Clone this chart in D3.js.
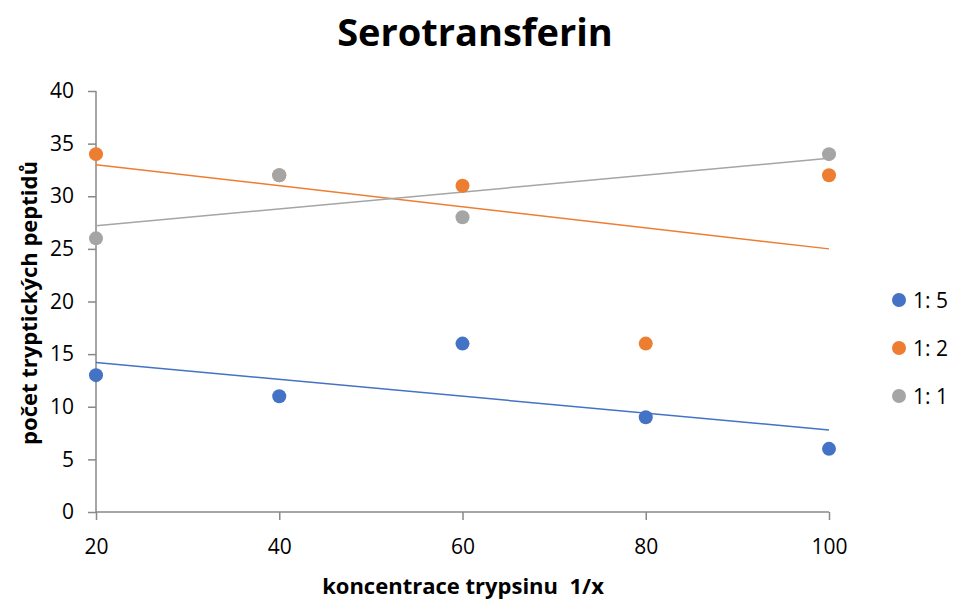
<!DOCTYPE html>
<html>
<head>
<meta charset="utf-8">
<script src="https://cdn.jsdelivr.net/npm/d3@7"></script>
<style>
  body { margin: 0; background: #fff; }
  svg { display: block; }
  text { font-family: "Open Sans", "Noto Sans", sans-serif; fill: #000; }
</style>
</head>
<body>
<svg id="chart" width="960" height="603"></svg>
<script>
// Number of tryptic peptides vs. trypsin concentration (1/x)
const seriesNames = ["1: 5", "1: 2", "1: 1"];
const seriesColors = ["#4472C4", "#ED7D31", "#A5A5A5"];
const xs15 = [20, 40, 60, 80, 100];
const ys15 = [13, 11, 16, 9, 6];
const xs12 = [20, 40, 60, 80, 100];
const ys12 = [34, 32, 31, 16, 32];
const xs11 = [20, 40, 60, 100];
const ys11 = [26, 32, 28, 34];
const xTicks = [20, 40, 60, 80, 100];
const yTicks = [0, 5, 10, 15, 20, 25, 30, 35, 40];

const series = [
  { name: seriesNames[0], color: seriesColors[0], xs: xs15, ys: ys15 },
  { name: seriesNames[1], color: seriesColors[1], xs: xs12, ys: ys12 },
  { name: seriesNames[2], color: seriesColors[2], xs: xs11, ys: ys11 }
];

// least-squares linear trend
function linFit(xs, ys) {
  const n = xs.length;
  const mx = d3.mean(xs), my = d3.mean(ys);
  let num = 0, den = 0;
  for (let i = 0; i < n; i++) {
    num += (xs[i] - mx) * (ys[i] - my);
    den += (xs[i] - mx) ** 2;
  }
  const b = num / den;
  return x => my + b * (x - mx);
}

const svg = d3.select("#chart");
const x = d3.scaleLinear().domain([20, 100]).range([96, 829]);
const y = d3.scaleLinear().domain([0, 40]).range([512, 91]);
const axisColor = "#898989";

// title
svg.append("text")
  .attr("x", 475).attr("y", 46)
  .attr("text-anchor", "middle")
  .style("font-size", "38px").style("font-weight", "bold")
  .text("Serotransferin");

// y axis
const yAxis = svg.append("g")
  .attr("transform", `translate(${x(20)},0)`)
  .call(d3.axisLeft(y).tickValues(yTicks).tickSize(8).tickPadding(14));
// x axis
const xAxis = svg.append("g")
  .attr("transform", `translate(0,${y(0)})`)
  .call(d3.axisBottom(x).tickValues(xTicks).tickSize(8).tickPadding(19));

[yAxis, xAxis].forEach(g => {
  g.select(".domain").attr("stroke", axisColor).attr("stroke-width", 1.5);
  g.selectAll(".tick line").attr("stroke", axisColor).attr("stroke-width", 1.5);
  g.selectAll(".tick text")
    .style("font-size", "21px")
    .style("font-family", "'Open Sans', 'Noto Sans', sans-serif")
    .attr("fill", "#000");
});
yAxis.select(".domain").attr("d", `M0,${y(40)}V${y(0)}`);
xAxis.select(".domain").attr("d", `M${x(20)},0H${x(100)}`);

// axis titles
svg.append("text")
  .attr("x", 463).attr("y", 594)
  .attr("text-anchor", "middle")
  .style("font-size", "22px").style("font-weight", "bold")
  .style("white-space", "pre")
  .text("koncentrace trypsinu  1/x");

svg.append("text")
  .attr("transform", `translate(37,303) rotate(-90)`)
  .attr("text-anchor", "middle")
  .style("font-size", "22px").style("font-weight", "bold")
  .text("počet tryptických peptidů");

// trendlines
series.forEach(s => {
  const f = linFit(s.xs, s.ys);
  svg.append("line")
    .attr("x1", x(20)).attr("y1", y(f(20)))
    .attr("x2", x(100)).attr("y2", y(f(100)))
    .attr("stroke", s.color).attr("stroke-width", 1.5);
});

// points
series.forEach(s => {
  svg.append("g").selectAll("circle")
    .data(s.xs.map((v, i) => [v, s.ys[i]]))
    .join("circle")
    .attr("cx", d => x(d[0])).attr("cy", d => y(d[1]))
    .attr("r", 7)
    .attr("fill", s.color);
});

// legend
const legend = svg.append("g");
series.forEach((s, i) => {
  const cy = 300 + i * 48;
  legend.append("circle").attr("cx", 899).attr("cy", cy).attr("r", 7).attr("fill", s.color);
  legend.append("text").attr("x", 913).attr("y", cy + 8)
    .style("font-size", "21px").text(s.name);
});
</script>
</body>
</html>
